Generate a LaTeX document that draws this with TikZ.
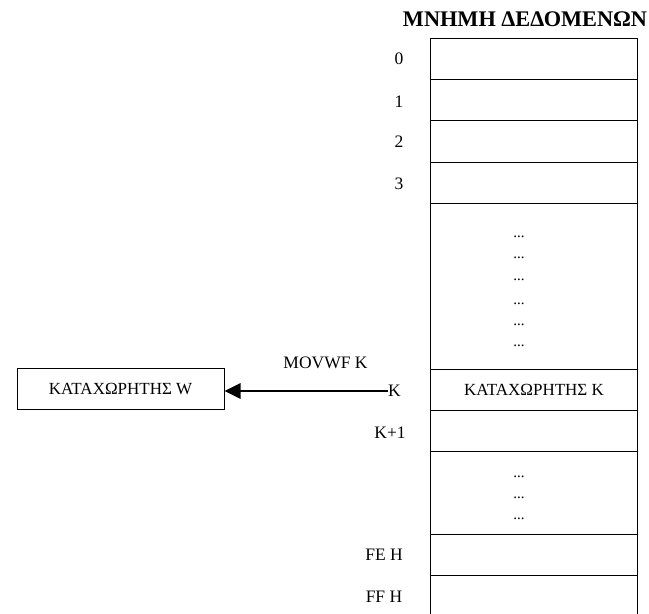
\documentclass[tikz,border=0pt]{standalone}
\usepackage{fontspec}
\setmainfont{Liberation Serif}
\usetikzlibrary{arrows.meta}
\begin{document}
\begin{tikzpicture}[x=1pt,y=-1pt,
  cell/.style={draw, line width=1pt, minimum width=207pt, inner sep=0pt, anchor=north west,
    font=\fontsize{17}{20}\selectfont},
  lbl/.style={font=\fontsize{17.5}{20}\selectfont, inner sep=0pt},
  dotlbl/.style={font=\fontsize{15}{18}\selectfont, inner sep=0pt},
  regbox/.style={draw, line width=1pt, minimum width=207pt, minimum height=41pt, inner sep=0pt,
    font=\fontsize{17}{20}\selectfont},
  title/.style={font=\fontsize{22.3}{26}\selectfont\bfseries, inner sep=0pt},
  movarrow/.style={line width=2.8pt, -{Triangle[length=16pt,width=15pt]}}]
\useasboundingbox (0,0) rectangle (649,614);
\clip (0,0) rectangle (649,614);

% heading of the memory column
\node[title] (head) at (525,19.5) {ΜΝΗΜΗ ΔΕΔΟΜΕΝΩΝ};

% data memory cells
\node[cell, minimum height=41pt] (c0) at (430,38) {};
\node[cell, minimum height=41pt] (c1) at (430,79) {};
\node[cell, minimum height=42pt] (c2) at (430,120) {};
\node[cell, minimum height=41pt] (c3) at (430,162) {};
\node[cell, minimum height=166pt] (cgap) at (430,203) {};
\node[cell, minimum height=41pt] (ck) at (430,369) {ΚΑΤΑΧΩΡΗΤΗΣ K};
\node[cell, minimum height=41pt] (ck1) at (430,410) {};
\node[cell, minimum height=83pt] (cgap2) at (430,451) {};
\node[cell, minimum height=41pt] (cfe) at (430,534) {};
\node[cell, minimum height=60pt] (cff) at (430,575) {};

% elided cells
\node[dotlbl] (d1) at (519,236.5) {...};
\node[dotlbl] (d2) at (519,257.5) {...};
\node[dotlbl] (d3) at (519,279.5) {...};
\node[dotlbl] (d4) at (519,303.5) {...};
\node[dotlbl] (d5) at (519,324.5) {...};
\node[dotlbl] (d6) at (519,345.5) {...};
\node[dotlbl] (d7) at (519,476.5) {...};
\node[dotlbl] (d8) at (519,497.5) {...};
\node[dotlbl] (d9) at (519,518.5) {...};

% addresses
\node[lbl] (a0) at (399,59) {0};
\node[lbl] (a1) at (399,101.5) {1};
\node[lbl] (a2) at (399,142) {2};
\node[lbl] (a3) at (399,184) {3};
\node[lbl, anchor=west] (ak) at (388,391) {K};
\node[lbl] (ak1) at (390,433) {K+1};
\node[lbl] (afe) at (384,555) {FE H};
\node[lbl] (aff) at (384,597) {FF H};

% working register and the move
\node[regbox] (regw) at (120.5,389) {ΚΑΤΑΧΩΡΗΤΗΣ W};
\node[lbl] (mov) at (325.5,363) {MOVWF K};
\draw[movarrow] (ak.west) -- (ak.west -| regw.east);
\end{tikzpicture}
\end{document}
